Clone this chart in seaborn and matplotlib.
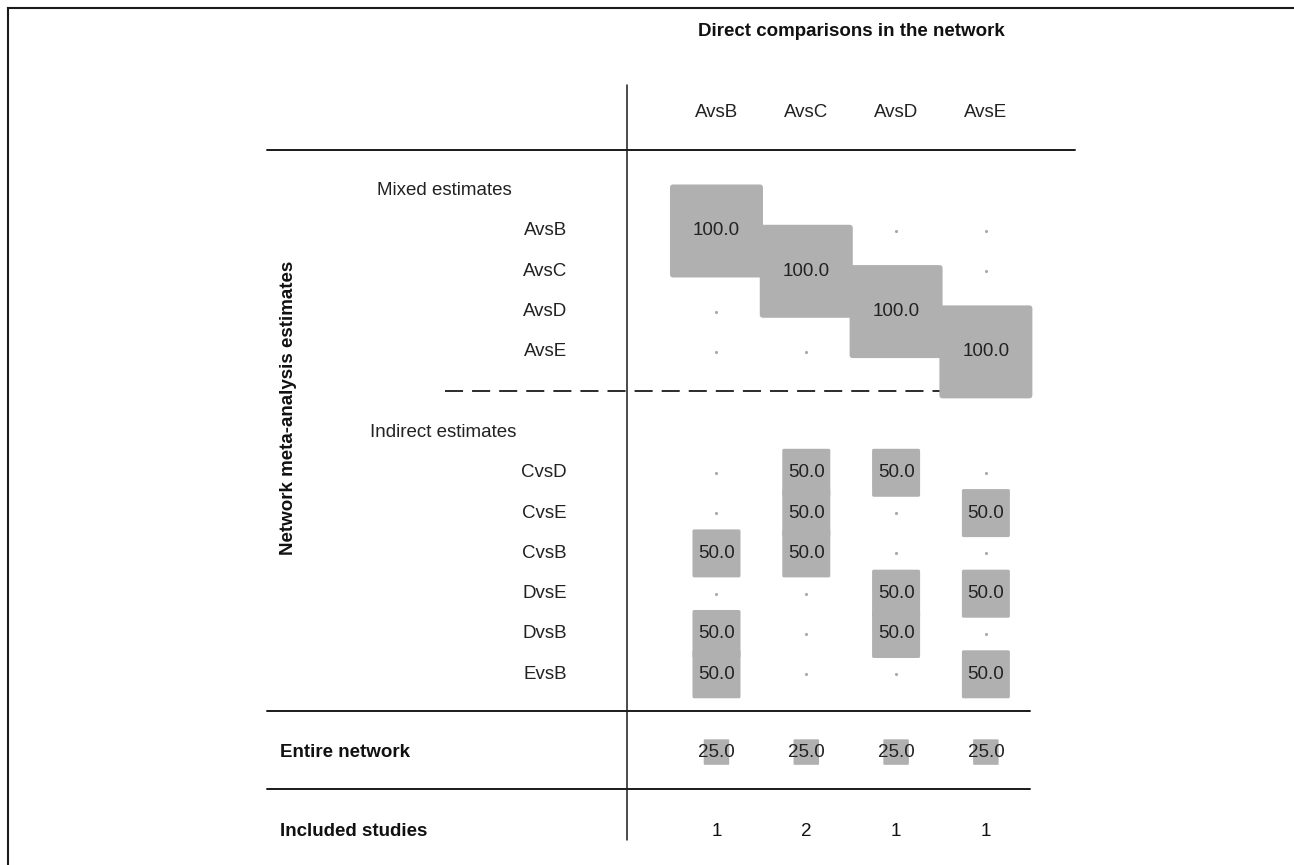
import numpy as np
import pandas as pd
import seaborn as sns
import matplotlib.pyplot as plt
from matplotlib.patches import FancyBboxPatch

# contribution matrix data
comparisons = ["AvsB", "AvsC", "AvsD", "AvsE"]
mixed_rows = ["AvsB", "AvsC", "AvsD", "AvsE"]
mixed_vals = [[100, 0, 0, 0],
              [0, 100, 0, 0],
              [0, 0, 100, 0],
              [0, 0, 0, 100]]
indirect_rows = ["CvsD", "CvsE", "CvsB", "DvsE", "DvsB", "EvsB"]
indirect_vals = [[0, 50, 50, 0],
                 [0, 50, 0, 50],
                 [50, 50, 0, 0],
                 [0, 0, 50, 50],
                 [50, 0, 50, 0],
                 [50, 0, 0, 50]]
entire_vals = [25, 25, 25, 25]
studies = [1, 2, 1, 1]

# row positions (row units)
mixed_y = [0, 1, 2, 3]
indirect_y = [6, 7, 8, 9, 10, 11]
entire_y = 12.93
studies_y = 14.91

recs = []
for lab, y, vals in zip(mixed_rows, mixed_y, mixed_vals):
    for j, v in enumerate(vals):
        recs.append((lab, j, y, v))
for lab, y, vals in zip(indirect_rows, indirect_y, indirect_vals):
    for j, v in enumerate(vals):
        recs.append((lab, j, y, v))
for j, v in enumerate(entire_vals):
    recs.append(("Entire network", j, entire_y, v))
df = pd.DataFrame(recs, columns=["row", "col", "y", "value"])

sns.set_theme(style="white")
plt.rcParams['font.family'] = ['Liberation Sans', 'DejaVu Sans']

W, H = 1294, 865
fig = plt.figure(figsize=(W / 100, H / 100), dpi=100)
ax = fig.add_axes([7.5 / W, 0, 1 - 7.5 / W, 1 - 8 / H])
ax.set_xlim(-7.895, 6.431)
ax.set_ylim(15.732, -5.533)
ax.set_xticks([])
ax.set_yticks([])
for s in ["right", "bottom"]:
    ax.spines[s].set_visible(False)
for s in ["top", "left"]:
    ax.spines[s].set_linewidth(1.5)
    ax.spines[s].set_color("#1a1a1a")

# rounded square marker
box = FancyBboxPatch((-0.5, -0.5), 1, 1, boxstyle="round,pad=0,rounding_size=0.035")
sq = box.get_path()

gray = "#b0b0b0"
nz = df[df["value"] > 0]
zr = df[df["value"] == 0]
# square side (px) grows with the weight
size_map = {v: ((0.9 * v + 3) * 0.72) ** 2 for v in sorted(nz["value"].unique())}

sns.scatterplot(data=zr, x="col", y="y", s=5, color="#a8a8a8", linewidth=0,
                ax=ax, legend=False, zorder=2)
sns.scatterplot(data=nz, x="col", y="y", size="value", sizes=size_map,
                marker=sq, color=gray, linewidth=0, ax=ax, legend=False, zorder=3)
ax.set_xlabel("")
ax.set_ylabel("")

fs = 13.5
for _, r in nz.iterrows():
    ax.text(r["col"], r["y"], f"{r['value']:.1f}", ha="center", va="center",
            fontsize=fs, color="#222222", zorder=4)
for j, n in enumerate(studies):
    ax.text(j, studies_y, str(n), ha="center", va="center", fontsize=fs, color="#111111")

# headers
ax.text(1.5, -4.95, "Direct comparisons in the network", ha="center", va="center",
        fontsize=fs, fontweight="bold", color="#111111")
for j, c in enumerate(comparisons):
    ax.text(j, -2.93, c, ha="center", va="center", fontsize=fs, color="#222222")

ax.text(-3.78, -1, "Mixed estimates", ha="left", va="center", fontsize=fs, color="#222222")
ax.text(-3.86, 5, "Indirect estimates", ha="left", va="center", fontsize=fs, color="#222222")
for lab, y in zip(mixed_rows + indirect_rows, mixed_y + indirect_y):
    ax.text(-1.665, y, lab, ha="right", va="center", fontsize=fs, color="#222222")
ax.text(-4.86, entire_y, "Entire network", ha="left", va="center", fontsize=fs,
        fontweight="bold", color="#111111")
ax.text(-4.86, studies_y, "Included studies", ha="left", va="center", fontsize=fs,
        fontweight="bold", color="#111111")
ax.text(-4.77, 4.39, "Network meta-analysis estimates", ha="center", va="center",
        rotation=90, fontsize=fs, fontweight="bold", color="#111111")

# table rules
ax.plot([-1.0, -1.0], [-3.62, 15.11], color="#1a1a1a", lw=1.1, zorder=1)
ax.plot([-5.0, 3.99], [-2.0, -2.0], color="#1a1a1a", lw=1.4, zorder=1)
ax.plot([-5.0, 3.49], [11.9, 11.9], color="#1a1a1a", lw=1.4, zorder=1)
ax.plot([-5.0, 3.49], [13.84, 13.84], color="#1a1a1a", lw=1.4, zorder=1)
ax.plot([-3.02, 3.49], [3.97, 3.97], color="#1a1a1a", lw=1.3, ls=(0, (10, 5)), zorder=1)

fig.savefig("out.png", dpi=100)
